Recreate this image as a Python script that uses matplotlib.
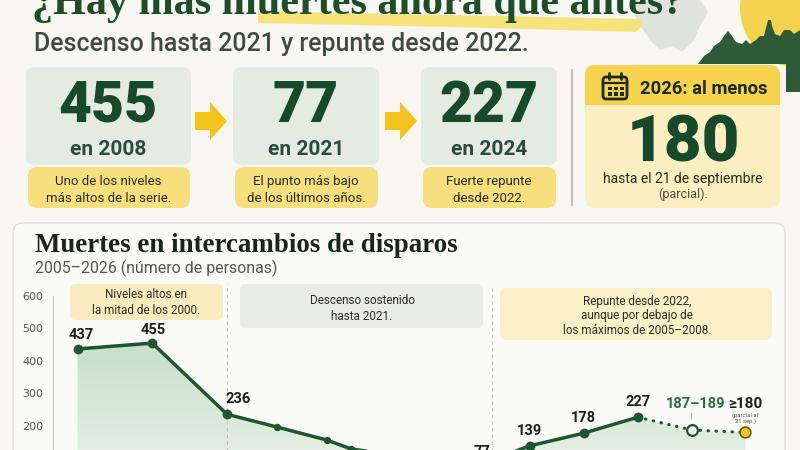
import numpy as np
import matplotlib
matplotlib.use("Agg")
import matplotlib.pyplot as plt
from matplotlib import font_manager as fm
from matplotlib.patches import FancyBboxPatch, Polygon, Circle, Rectangle
from matplotlib.colors import LinearSegmentedColormap

# ---------------- data ----------------
years = [2005, 2008, 2011, 2013, 2015, 2016, 2021, 2022, 2023, 2024]
deaths = [437, 455, 236, 197, 157, 129, 77, 139, 178, 227]
labeled_years = [2005, 2008, 2011, 2021, 2022, 2023, 2024]
est_years = [2024, 2025, 2026]
est_values = [227, 188, 180]
est_labels = ["", "187–189", "≥180"]
y_ticks = [0, 100, 200, 300, 400, 500, 600]

card_values = ["455", "77", "227"]
card_years = ["en 2008", "en 2021", "en 2024"]
card_notes = ["Uno de los niveles\nmás altos de la serie.",
              "El punto más bajo\nde los últimos años.",
              "Fuerte repunte\ndesde 2022."]
highlight_value = "180"

title = "¿Hay más muertes ahora que antes?"
subtitle = "Descenso hasta 2021 y repunte desde 2022."
chart_title = "Muertes en intercambios de disparos"
chart_sub = "2005–2026 (número de personas)"
box_texts = ["Niveles altos en\nla mitad de los 2000.",
             "Descenso sostenido\nhasta 2021.",
             "Repunte desde 2022,\naunque por debajo de\nlos máximos de 2005–2008."]


def pick(*names):
    for n in names:
        try:
            fm.findfont(fm.FontProperties(family=n), fallback_to_default=False)
            return n
        except Exception:
            pass
    return "DejaVu Sans"


SERIF = pick("Liberation Serif", "DejaVu Serif")
SANS = pick("Roboto", "Open Sans", "DejaVu Sans")

BG = "#f7f6f0"
DKGREEN = "#1d5631"
NUMGREEN = "#174a2b"

fig = plt.figure(figsize=(8, 4.5), dpi=100, facecolor=BG)
bg = fig.add_axes([0, 0, 1, 1], zorder=0)
bg.set_xlim(0, 800)
bg.set_ylim(450, 0)
bg.axis("off")
renderer = fig.canvas.get_renderer()


def fit(t, width):
    bb = t.get_window_extent(renderer)
    t.set_fontsize(t.get_fontsize() * width / bb.width)
    return t


def rbox(x0, y0, x1, y1, fc, ec="none", r=8, lw=0, z=1):
    p = FancyBboxPatch((x0, y0), x1 - x0, y1 - y0,
                       boxstyle=f"round,pad=0,rounding_size={r}",
                       fc=fc, ec=ec, lw=lw, zorder=z)
    bg.add_patch(p)
    return p


# ---------------- decoration (top right) ----------------
bg.add_patch(Circle((800, 8), 60, fc="#f4d44e", ec="none", zorder=1))
bg.add_patch(Polygon([(636, 0), (700, 0), (708, 12), (700, 26), (694, 40),
                      (682, 52), (672, 46), (660, 50), (650, 40), (642, 28),
                      (634, 14)], closed=True, fc="#e0e2dc", ec="none", zorder=1))
city = [(698, 64), (704, 56), (710, 52), (714, 46), (720, 42), (724, 36),
        (728, 31), (732, 36), (736, 42), (742, 44), (746, 40), (750, 44),
        (756, 40), (760, 36), (764, 36), (767, 24), (768, 20), (771, 20),
        (772, 26), (775, 34), (780, 36), (784, 30), (790, 30), (794, 34),
        (800, 30), (800, 92), (786, 92), (786, 64)]
bg.add_patch(Polygon(city, closed=True, fc="#2d5b37", ec="none", zorder=1))

# title highlight stroke
bg.add_patch(Polygon([(258, 11), (450, 15), (640, 19), (642, 26), (636, 32),
                      (450, 27), (258, 23)], closed=True, fc="#f6e37c",
                     ec="none", zorder=1))

t = bg.text(32, 14, title, fontfamily=SERIF, fontweight="bold", color="#1f4d2c",
            fontsize=30, ha="left", va="baseline", zorder=3)
fit(t, 651)
t = bg.text(34, 51, subtitle, fontfamily=SANS, fontweight="medium",
            color="#3f4a45", fontsize=18, ha="left", va="baseline", zorder=3)
fit(t, 493)

# ---------------- cards ----------------
card_x = [(26, 191), (233, 379), (421, 557)]
for (x0, x1), val, yr, note in zip(card_x, card_values, card_years, card_notes):
    cx = (x0 + x1) / 2
    rbox(x0, 67, x1, 165, "#e4ece2", r=9)
    rbox(x0 + 2, 167, x1 - 1, 208, "#f7df7e", r=9)
    bg.text(cx, 122, val, fontfamily=SANS, fontweight="black", color=NUMGREEN,
            fontsize=41, ha="center", va="baseline", zorder=3)
    bg.text(cx, 155, yr, fontfamily=SANS, fontweight="bold", color="#2d4a3a",
            fontsize=15, ha="center", va="baseline", zorder=3)
    l1, l2 = note.split("\n")
    bg.text(cx, 185, l1, fontfamily=SANS, color="#2a2a1c", fontsize=9.5,
            ha="center", va="baseline", zorder=3)
    bg.text(cx, 202, l2, fontfamily=SANS, color="#2a2a1c", fontsize=9.5,
            ha="center", va="baseline", zorder=3)

# arrows
for ax0 in (195, 385):
    bg.add_patch(Polygon([(ax0, 112), (ax0 + 15, 112), (ax0 + 15, 102),
                          (ax0 + 32, 121), (ax0 + 15, 140), (ax0 + 15, 130),
                          (ax0, 130)], closed=True, fc="#f4c41c", ec="none",
                         zorder=2))

# divider
bg.plot([572, 572], [70, 205], color="#b5b5ad", lw=1.2, zorder=2)

# 2026 card
rbox(585, 65, 780, 208, "#fbefc2", r=10, z=2)
rbox(585, 65, 780, 105, "#f6d34f", r=10, z=2)
bg.add_patch(Rectangle((585, 95), 195, 10, fc="#f6d34f", ec="none", zorder=2))
# calendar icon
bg.add_patch(FancyBboxPatch((603, 77), 24, 22, boxstyle="round,pad=0,rounding_size=3",
                            fc="none", ec="#1f2a1c", lw=2, zorder=3))
bg.plot([603, 627], [83, 83], color="#1f2a1c", lw=1.6, zorder=3)
for hx in (609, 621):
    bg.plot([hx, hx], [73, 79], color="#1f2a1c", lw=2, solid_capstyle="round", zorder=3)
for gx in (607.5, 613.5, 619.5):
    for gy in (86.5, 92):
        bg.add_patch(Rectangle((gx, gy), 4, 3.5, fc="#1f2a1c", ec="none", zorder=3))
t = bg.text(640, 94, "2026: al menos", fontfamily=SANS, fontweight="bold",
            color="#1f2a1c", fontsize=13, ha="left", va="baseline", zorder=3)
fit(t, 127)
bg.text(683, 162, highlight_value, fontfamily=SANS, fontweight="black",
        color=NUMGREEN, fontsize=47, ha="center", va="baseline", zorder=3)
bg.text(683, 183, "hasta el 21 de septiembre", fontfamily=SANS, color="#2a2a1c",
        fontsize=10, ha="center", va="baseline", zorder=3)
bg.text(683, 198, "(parcial).", fontfamily=SANS, color="#4a4a40",
        fontsize=9, ha="center", va="baseline", zorder=3)

# ---------------- chart panel ----------------
rbox(13, 223, 785, 480, "#fafaf6", ec="#e0e0d8", lw=1, r=10, z=1)
t = bg.text(35, 252, chart_title, fontfamily=SERIF, fontweight="bold",
            color="#17251c", fontsize=20, ha="left", va="baseline", zorder=3)
fit(t, 422)
t = bg.text(35, 273, chart_sub, fontfamily=SANS, color="#555550",
            fontsize=11, ha="left", va="baseline", zorder=3)
fit(t, 242)

# annotation boxes
boxes = [((70, 284, 223, 320), "#f8ebc0", 146, [295, 310]),
         ((240, 284, 483, 328), "#e7ede5", 362, [301, 316]),
         ((500, 288, 772, 340), "#faf0c8", 637, [301, 316, 330])]
for (coords, fc, cx, ys), txt in zip(boxes, box_texts):
    x0, y0, x1, y1 = coords
    rbox(x0, y0, x1, y1, fc, r=6, z=2)
    for yy, line in zip(ys, txt.split("\n")):
        bg.text(cx, yy, line, fontfamily=SANS, color="#2e2e26", fontsize=8.5,
                ha="center", va="center", zorder=3)

# ---------------- main chart axes ----------------
K1, K2, PIV = 24.9, 53.9, 2021.0


def fwd(y):
    y = np.asarray(y, dtype=float)
    return np.where(y <= PIV, (y - PIV) * K1, (y - PIV) * K2)


def inv(u):
    u = np.asarray(u, dtype=float)
    return np.where(u <= 0, u / K1 + PIV, u / K2 + PIV)


ax = fig.add_axes([53 / 800, (450 - 491) / 450, 730 / 800, 211 / 450], zorder=2)
ax.patch.set_visible(False)
ax.set_xscale("function", functions=(fwd, inv))
ax.set_xlim(2004.012, 2026.696)
ax.set_ylim(0, 649.2)
for s in ("top", "right", "bottom"):
    ax.spines[s].set_visible(False)
ax.spines["left"].set_color("#c2c2ba")
ax.spines["left"].set_bounds(0, 600)
ax.set_yticks(y_ticks)
ax.tick_params(axis="y", length=0, pad=7, labelsize=8, labelcolor="#55554f")
ax.set_xticks([])

# gradient fill under the whole series
all_x = years + est_years[1:]
all_y = deaths + est_values[1:]
poly = ax.fill_between(all_x, all_y, 0, facecolor="none", edgecolor="none")
grad = np.linspace(0, 1, 256).reshape(-1, 1)
cmap = LinearSegmentedColormap.from_list("g", ["#edf4ea", "#c6dec8"])
im = ax.imshow(grad, extent=[2004.0, 2026.7, 0, 470], origin="lower",
               aspect="auto", cmap=cmap, zorder=1, interpolation="bilinear")
im.set_clip_path(poly.get_paths()[0], transform=ax.transData)
ax.set_xlim(2004.012, 2026.696)
ax.set_ylim(0, 649.2)

# separators
ax.vlines([2011, 2021.3], 0, [637, 625], colors="#c4c4bc", lw=0.8,
          linestyles=(0, (3, 3)), zorder=1.5)

ax.plot(years, deaths, color=DKGREEN, lw=2.5, zorder=3, solid_capstyle="round")
ax.plot(est_years, est_values, color=DKGREEN, lw=2.3, ls=(0, (0.1, 2.4)),
        dash_capstyle="round", zorder=3)

big = [y in labeled_years for y in years]
ax.scatter([x for x, b in zip(years, big) if b], [v for v, b in zip(deaths, big) if b],
           s=50, color=DKGREEN, zorder=4, linewidths=0)
ax.scatter([x for x, b in zip(years, big) if not b], [v for v, b in zip(deaths, big) if not b],
           s=28, color=DKGREEN, zorder=4, linewidths=0)
ax.scatter([est_years[1]], [est_values[1]], s=60, facecolor="white",
           edgecolor=DKGREEN, linewidths=1.6, zorder=4)
ax.scatter([est_years[2]], [est_values[2]], s=60, facecolor="#f2c81c",
           edgecolor="#6b5a10", linewidths=1.2, zorder=4)

P = 0.72  # px -> pt
offsets = {2005: (4, 14), 2008: (1, 13), 2011: (11, 15), 2021: (6, 14),
           2022: (0, 15), 2023: (0, 15), 2024: (0, 15)}
for yr, v in zip(years, deaths):
    if yr in offsets:
        dx, dy = offsets[yr]
        ax.annotate(str(v), (yr, v), xytext=(dx * P, dy * P), textcoords="offset points",
                    ha="center", va="center", fontfamily=SANS, fontweight="bold",
                    fontsize=10.5, color="#1a1f1a", zorder=5)

ax.annotate(est_labels[1], (est_years[1], est_values[1]), xytext=(4 * P, 26 * P),
            textcoords="offset points", ha="center", va="center", fontfamily=SANS,
            fontweight="bold", fontsize=10.5, color="#2a6e40", zorder=5)
ax.annotate("|", (est_years[1], est_values[1]), xytext=(0, 14 * P),
            textcoords="offset points", ha="center", va="center", fontfamily=SANS,
            fontsize=5, color="#777770", zorder=5)
ax.annotate(est_labels[2], (est_years[2], est_values[2]), xytext=(0, 28 * P),
            textcoords="offset points", ha="center", va="center", fontfamily=SANS,
            fontweight="bold", fontsize=11, color="#1a1f1a", zorder=5)
ax.annotate("(parcial al\n21 sep.)", (est_years[2], est_values[2]), xytext=(0, 14 * P),
            textcoords="offset points", ha="center", va="center", fontfamily=SANS,
            fontsize=4.2, color="#55554f", linespacing=1.0, zorder=5)

fig.savefig("out.png", dpi=100, facecolor=BG)
